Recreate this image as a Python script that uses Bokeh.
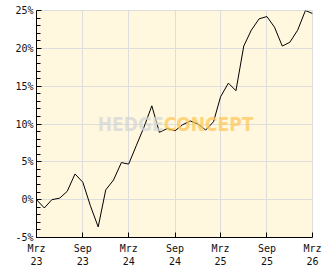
import pandas as pd
from bokeh.plotting import figure
from bokeh.models import FixedTicker, Range1d, ColumnDataSource
from bokeh.core.properties import value
from bokeh.embed import file_html
from bokeh.resources import INLINE

# --- data -------------------------------------------------------------
dates = pd.date_range("2023-03-01", periods=37, freq="MS")
values = [0.0, -1.1, 0.0, 0.2, 1.1, 3.4, 2.3, -0.8, -3.6, 1.3,
          2.6, 4.9, 4.7, 7.2, 9.6, 12.4, 8.9, 9.4, 9.1, 9.9,
          10.4, 10.0, 9.2, 10.3, 13.6, 15.4, 14.4, 20.3, 22.4, 23.9,
          24.2, 22.8, 20.3, 20.8, 22.4, 25.0, 24.6]

x_tick_dates = ["2023-03-01", "2023-09-01", "2024-03-01", "2024-09-01",
                "2025-03-01", "2025-09-01", "2026-03-01"]
x_tick_labels = ["Mrz\n23", "Sep\n23", "Mrz\n24", "Sep\n24",
                 "Mrz\n25", "Sep\n25", "Mrz\n26"]
y_ticks = [-5, 0, 5, 10, 15, 20, 25]
y_tick_labels = ["-5%", "0%", "5%", "10%", "15%", "20%", "25%"]
watermark_left = "HEDGE"
watermark_right = "CONCEPT"


def ms(d):
    return pd.Timestamp(d).value / 1e6


x_ticks = [ms(d) for d in x_tick_dates]

p = figure(width=332, height=269, x_axis_type="datetime",
           output_backend="svg", toolbar_location=None,
           x_range=Range1d(ms("2023-03-01"), ms("2026-03-01")),
           y_range=Range1d(-5, 25),
           min_border_left=36, min_border_right=20,
           min_border_top=10, min_border_bottom=32)

p.background_fill_color = "#FFF7DE"
p.border_fill_color = "white"
p.outline_line_color = "#DDDDDD"

# grids
for g in (p.xgrid, p.ygrid):
    g.grid_line_color = "#DDDDDD"
    g.grid_line_width = 1

# x axis
xa = p.xaxis[0]
xa.ticker = FixedTicker(ticks=x_ticks)
xa.major_label_overrides = {t: lab for t, lab in zip(x_ticks, x_tick_labels)}
xa.major_tick_in = 5
xa.major_tick_out = 0
xa.minor_tick_in = 0
xa.minor_tick_out = 0
xa.axis_line_color = "black"
xa.major_tick_line_color = "black"
xa.major_label_standoff = 5
xa.major_label_text_font = "DejaVu Sans Mono"
xa.major_label_text_font_size = "10px"
xa.major_label_text_color = "#111111"

# y axis
ya = p.yaxis[0]
minor = [v for v in range(-5, 26) if v % 5 != 0]
ya.ticker = FixedTicker(ticks=y_ticks, minor_ticks=minor)
ya.major_label_overrides = {t: lab for t, lab in zip(y_ticks, y_tick_labels)}
ya.major_tick_in = 5
ya.major_tick_out = 0
ya.minor_tick_in = 4
ya.minor_tick_out = 0
ya.axis_line_color = "black"
ya.major_tick_line_color = "black"
ya.minor_tick_line_color = "black"
ya.major_label_standoff = 3
ya.major_label_text_font = "DejaVu Sans Mono"
ya.major_label_text_font_size = "10px"
ya.major_label_text_color = "#111111"

src = ColumnDataSource(dict(x=dates, y=values))
p.line("x", "y", source=src, line_color="black", line_width=1)

# watermark
split = ms("2024-07-18")
wm_font = value("DejaVu Sans Condensed, Liberation Sans, sans-serif")
p.text(x=[split], y=[10], text=[watermark_left], text_align="right",
       text_baseline="middle", text_color="#D6D6D6", text_alpha=0.75,
       text_font=wm_font, text_font_style="bold",
       text_font_size="19px")
p.text(x=[split], y=[10], text=[watermark_right], text_align="left",
       text_baseline="middle", text_color="#FFC85A", text_alpha=0.75,
       text_font=wm_font, text_font_style="bold",
       text_font_size="19px")

open("out.html", "w").write(file_html(p, INLINE))
